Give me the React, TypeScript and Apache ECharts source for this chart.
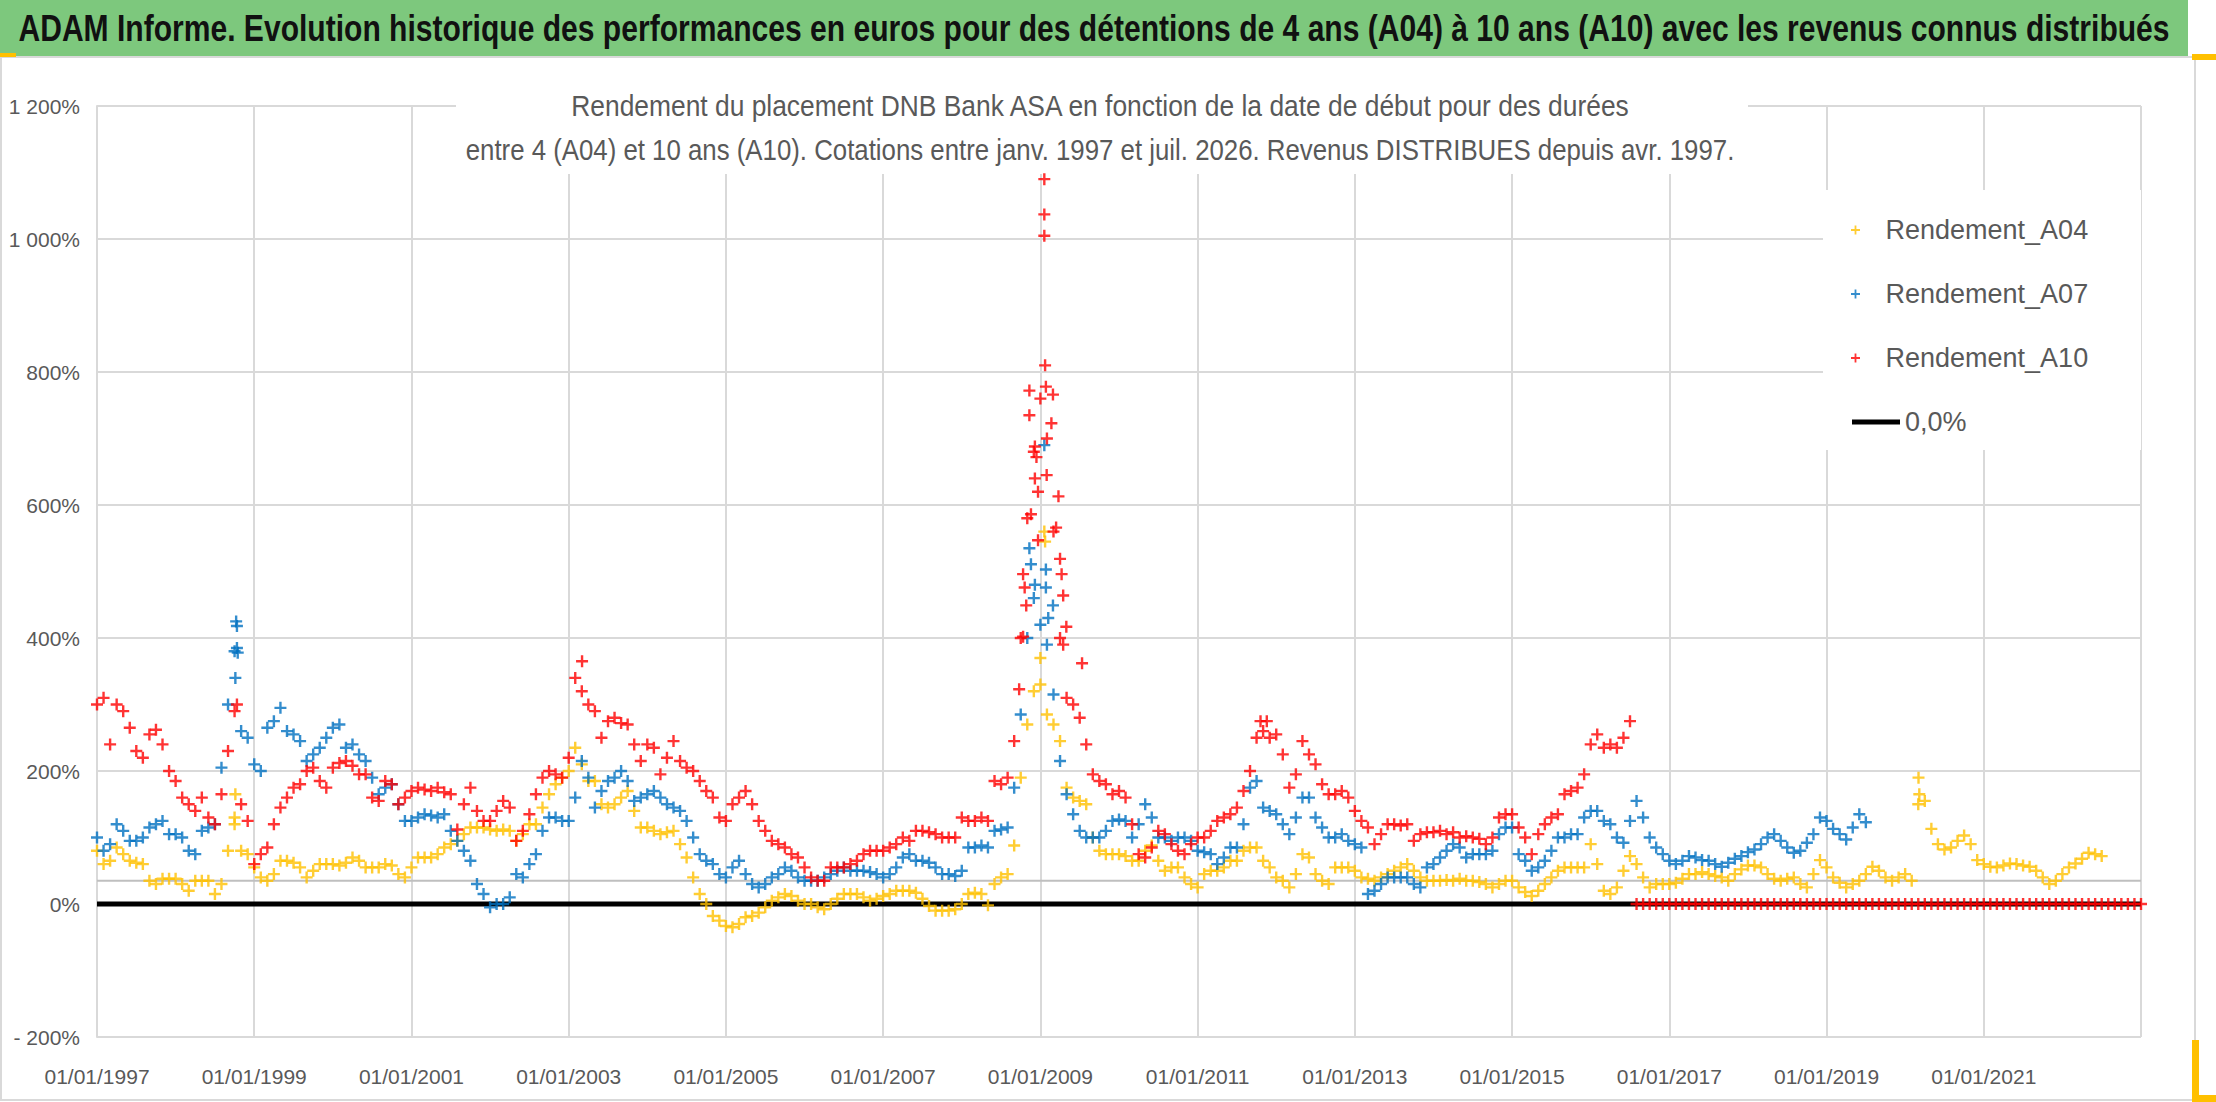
import { useEffect, useRef } from 'react';
import * as echarts from 'echarts';

// monthly readings, first value = January 1997
const START_YEAR = 1997;
const X_MIN = 1997;
const X_MAX = 2023;
const Y_MIN = -200;
const Y_MAX = 1200;
const REF_LEVEL = 35;
const ZERO_LEVEL = 0;

const a04Monthly = [
  80, 60, 65, 85, 75, 65, 62, 60, 35, 30, 38, 38,
  38, 30, 20, 35, 35, 35, 15, 30, 80, 120, 80, 75,
  55, 40, 35, 45, 65, 65, 62, 55, 40, 50, 60, 60,
  60, 58, 62, 70, 65, 55, 55, 55, 60, 58, 45, 40,
  55, 70, 70, 70, 75, 85, 90, 95, 105, 115, 115, 115,
  112, 110, 112, 110, 95, 105, 120, 120, 145, 165, 180, 190,
  200, 235, 210, 185, 185, 150, 145, 150, 160, 170, 140, 115,
  115, 110, 105, 108, 110, 90, 70, 40, 15, 0, -18, -25,
  -33, -35, -30, -20, -18, -13, -5, 5, 10, 15, 12, 5,
  0, 0, -5, -8, 0, 8, 15, 15, 15, 10, 5, 8,
  12, 15, 20, 20, 20, 17, 8, -3, -10, -10, -10, -8,
  0, 15, 17, 15, -2, 30, 40, 45, 88, 190, 270, 320,
  330, 285, 270, 245, 175, 160, 155, 150, 100, 80, 75, 75,
  75, 72, 65, 65, 80, 88, 65, 50, 55, 55, 40, 30,
  25, 45, 50, 50, 55, 65, 65, 80, 85, 85, 65, 55,
  40, 35, 25, 45, 75, 70, 45, 35, 30, 55, 55, 55,
  50, 40, 38, 35, 40, 45, 50, 55, 60, 50, 40, 35,
  35, 35, 36, 35, 38, 35, 35, 33, 30, 25, 30, 35,
  35, 25, 18, 12, 20, 30, 40, 50, 55, 55, 55, 55,
  90, 60, 20, 15, 25, 50, 72, 60, 40, 25, 30, 30,
  30, 32, 38, 45, 45, 48, 45, 42, 40, 35, 45, 52,
  58, 58, 55, 45, 38, 35, 38, 40, 30, 25, 45, 66,
  55, 40, 32, 25, 30, 35, 45, 56, 50, 40, 35, 40,
  45, 35, 150, 155, 113, 90, 82, 85, 95, 103, 90, 66,
  60, 56, 55, 58, 61, 60, 58, 56, 50, 40, 30, 35,
  45, 55, 61, 68, 77, 75, 72,
];

const a07Monthly = [
  100, 80, 90, 120, 110, 95, 95, 100, 115, 120, 125, 105,
  105, 100, 80, 75, 110, 115, 120, 205, 300, 380, 260, 250,
  210, 200, 265, 275, 295, 260, 255, 245, 215, 225, 235, 250,
  265, 270, 235, 240, 225, 215, 190, 165, 175, 180, 150, 125,
  125, 130, 135, 133, 130, 135, 110, 95, 80, 65, 30, 15,
  -5, 0, 0, 10, 45, 40, 60, 75, 110, 130, 130, 125,
  125, 160, 215, 190, 145, 170, 185, 190, 200, 185, 155, 160,
  165, 170, 160, 150, 145, 140, 125, 100, 75, 65, 60, 45,
  40, 55, 65, 45, 30, 25, 30, 40, 45, 55, 50, 40,
  35, 35, 35, 40, 45, 50, 55, 50, 50, 50, 48, 45,
  40, 45, 55, 70, 75, 65, 65, 62, 55, 45, 45, 42,
  50, 85, 85, 88, 85, 110, 112, 115, 175, 285, 400, 460,
  420, 390, 315, 215, 165, 135, 110, 100, 100, 100, 110, 125,
  127, 125, 100, 120, 150, 130, 100, 100, 95, 100, 100, 95,
  80, 78, 75, 60, 70, 85, 85, 120, 175, 185, 145, 140,
  135, 120, 105, 130, 160, 160, 130, 115, 100, 100, 105, 95,
  90, 85, 15, 20, 30, 40, 40, 40, 40, 30, 25, 55,
  60, 70, 80, 90, 85, 70, 75, 75, 75, 80, 105, 115,
  115, 75, 65, 50, 55, 65, 80, 100, 100, 105, 105, 130,
  140, 140, 125, 120, 100, 92, 125, 155, 130, 100, 85, 75,
  65, 60, 65, 72, 70, 66, 65, 60, 56, 62, 68, 72,
  78, 82, 90, 100, 105, 95, 85, 77, 80, 92, 105, 130,
  125, 113, 105, 97, 115, 135, 123,
];

const a10Monthly = [
  300, 310, 240, 300, 290, 265, 230, 220, 255, 262, 240, 200,
  185, 160, 150, 140, 160, 130, 120, 165, 230, 290, 150, 125,
  60, 75, 85, 120, 145, 160, 175, 180, 200, 205, 185, 175,
  205, 212, 215, 208, 195, 195, 160, 155, 185, 180, 150, 160,
  170, 175, 172, 170, 175, 168, 165, 112, 150, 175, 140, 125,
  125, 140, 155, 145, 95, 110, 135, 165, 190, 200, 195, 190,
  220, 340, 320, 300, 290, 250, 275, 280, 272, 270, 240, 215,
  240, 235, 195, 220, 245, 215, 205, 200, 185, 170, 160, 130,
  125, 150, 160, 170, 150, 125, 110, 95, 90, 85, 75, 70,
  55, 40, 35, 35, 55, 55, 55, 60, 65, 75, 80, 80,
  80, 85, 90, 100, 95, 110, 110, 108, 105, 100, 100, 100,
  130, 125, 125, 130, 125, 185, 180, 190, 245, 400, 580, 680,
  760, 700, 560, 400, 310, 300, 280, 240, 195, 185, 180, 165,
  170, 160, 120, 75, 70, 85, 110, 105, 90, 80, 75, 90,
  100, 100, 110, 125, 130, 135, 145, 170, 200, 250, 260, 250,
  255, 225, 175, 195, 245, 225, 210, 180, 165, 165, 170, 160,
  140, 125, 115, 90, 105, 120, 120, 118, 120, 95, 105, 108,
  108, 110, 105, 108, 100, 102, 100, 98, 90, 100, 130, 135,
  135, 115, 100, 75, 105, 120, 130, 135, 165, 170, 175, 195,
  240, 255, 235, 240, 235, 250, 275, 0, 0, 0, 0, 0,
  0, 0, 0, 0, 0, 0, 0, 0, 0, 0, 0, 0,
  0, 0, 0, 0, 0, 0, 0, 0, 0, 0, 0, 0,
  0, 0, 0, 0, 0, 0, 0, 0, 0, 0, 0, 0,
  0, 0, 0, 0, 0, 0, 0, 0, 0, 0, 0, 0,
  0, 0, 0, 0, 0, 0, 0, 0, 0, 0, 0, 0,
  0, 0, 0, 0, 0, 0, 0, 0, 0, 0, 0, 0,
  0,
];

// isolated daily extremes, [decimal year, %]
const a04Spikes = [
  [1998.76, 165], [1998.75, 130], [2009.0, 370], [2009.05, 560], [2009.06, 545],
  [2020.17, 190], [2020.18, 165],
];
const a07Spikes = [
  [1998.76, 340], [1998.77, 425], [1998.78, 418], [1998.78, 385], [1998.79, 378],
  [2008.86, 535], [2008.88, 511], [2008.93, 480], [2009.05, 690], [2009.07, 503],
  [2009.07, 476], [2009.1, 430], [2009.16, 449],
];
const a10Spikes = [
  [1998.78, 300], [2003.17, 365], [2011.8, 275], [2011.88, 275],
  [2008.73, 323], [2008.78, 402], [2008.78, 496], [2008.8, 476], [2008.82, 449],
  [2008.86, 772], [2008.86, 735], [2008.88, 586], [2008.93, 688], [2008.93, 640],
  [2008.95, 672], [2008.97, 620], [2008.97, 547], [2009.05, 1090], [2009.05, 1037],
  [2009.05, 1005], [2009.06, 810], [2009.07, 778], [2009.08, 645], [2009.14, 723],
  [2009.16, 766], [2009.2, 566], [2009.23, 613], [2009.25, 519], [2009.27, 496],
  [2009.29, 464], [2009.29, 390], [2009.33, 417], [2009.53, 362],
];

const PLUS = 'path://M4,0H6V4H10V6H6V10H4V6H0V4H4Z';
const FONT = "'Liberation Sans', Arial, sans-serif";
const GREY_TEXT = '#595959';

const toPoints = (values: number[]) => values.map((v, i) => [START_YEAR + i / 12, v]);

const fmtPct = (v: number) => {
  const abs = Math.abs(v);
  const body = abs >= 1000 ? `${Math.floor(abs / 1000)} ${String(abs % 1000).padStart(3, '0')}` : String(abs);
  return (v < 0 ? '- ' : '') + body + '%';
};

const App = () => {
  const chartRef = useRef<HTMLDivElement>(null);

  useEffect(() => {
    document.body.style.margin = '0';
    if (!chartRef.current) return;
    const myChart = echarts.init(chartRef.current, undefined, { renderer: 'svg' });

    const scatter = (name: string, color: string, data: number[][]) => ({
      name,
      type: 'scatter',
      data,
      symbol: PLUS,
      symbolSize: 12,
      itemStyle: { color },
      z: 3,
    });

    const legendText = { fontSize: 27, lineHeight: 32, color: GREY_TEXT, fontFamily: FONT };

    const option = {
      animation: false,
      backgroundColor: '#fff',
      grid: { left: 97, right: 75, top: 106, bottom: 65 },
      xAxis: {
        type: 'value',
        min: X_MIN,
        max: X_MAX,
        interval: 2,
        axisLine: { show: true, lineStyle: { color: '#d9d9d9', width: 2 } },
        axisTick: { show: false },
        splitLine: { show: true, lineStyle: { color: '#d9d9d9', width: 2 } },
        axisLabel: {
          formatter: (v: number) => `01/01/${v}`,
          showMaxLabel: false,
          color: GREY_TEXT,
          fontSize: 21,
          fontFamily: FONT,
          margin: 29,
        },
      },
      yAxis: {
        type: 'value',
        min: Y_MIN,
        max: Y_MAX,
        interval: 200,
        axisLine: { show: true, lineStyle: { color: '#d9d9d9', width: 2 } },
        axisTick: { show: false },
        splitLine: { show: true, lineStyle: { color: '#d9d9d9', width: 2 } },
        axisLabel: {
          formatter: fmtPct,
          color: GREY_TEXT,
          fontSize: 21,
          fontFamily: FONT,
          margin: 17,
        },
      },
      legend: [
        {
          data: ['Rendement_A04', 'Rendement_A07', 'Rendement_A10'],
          orient: 'vertical',
          left: 1846,
          top: 209,
          icon: PLUS,
          itemWidth: 50,
          itemHeight: 9,
          itemGap: 32,
          textStyle: legendText,
        },
        {
          data: ['0,0%'],
          left: 1847,
          top: 401,
          icon: 'rect',
          itemWidth: 48,
          itemHeight: 5,
          textStyle: legendText,
        },
      ],
      graphic: [
        { type: 'rect', z: 1, shape: { x: 1, y: 57, width: 2194, height: 1043 }, style: { fill: 'none', stroke: '#d9d9d9', lineWidth: 2 } },
        { type: 'rect', z: 1, shape: { x: 0, y: 0, width: 2188, height: 56 }, style: { fill: '#7DC87D' } },
        {
          type: 'text', z: 2, x: 1094, y: 29, scaleX: 0.835,
          style: {
            text: 'ADAM Informe. Evolution historique des performances en euros pour des détentions de 4 ans (A04) à 10 ans (A10) avec les revenus connus distribués',
            font: `bold 36px ${FONT}`, fill: '#111', textAlign: 'center', textVerticalAlign: 'middle',
          },
        },
        { type: 'rect', z: 1, shape: { x: 456, y: 100, width: 1292, height: 74 }, style: { fill: '#fff' } },
        {
          type: 'text', z: 2, x: 1100, y: 106, scaleX: 0.91,
          style: {
            text: 'Rendement du placement DNB Bank ASA en fonction de la date de début pour des durées',
            font: `29px ${FONT}`, fill: GREY_TEXT, textAlign: 'center', textVerticalAlign: 'middle',
          },
        },
        {
          type: 'text', z: 2, x: 1100, y: 150, scaleX: 0.89,
          style: {
            text: 'entre 4 (A04) et 10 ans (A10). Cotations entre janv. 1997 et juil. 2026. Revenus DISTRIBUES depuis avr. 1997.',
            font: `29px ${FONT}`, fill: GREY_TEXT, textAlign: 'center', textVerticalAlign: 'middle',
          },
        },
        { type: 'rect', z: 1, shape: { x: 1823, y: 190, width: 318, height: 260 }, style: { fill: '#fff' } },
        { type: 'rect', z: 2, shape: { x: 0, y: 53, width: 16, height: 4 }, style: { fill: '#FFC000' } },
        { type: 'rect', z: 2, shape: { x: 2192, y: 54, width: 24, height: 6 }, style: { fill: '#FFC000' } },
        { type: 'rect', z: 2, shape: { x: 2192, y: 1040, width: 7, height: 62 }, style: { fill: '#FFC000' } },
        { type: 'rect', z: 2, shape: { x: 2192, y: 1095, width: 24, height: 7 }, style: { fill: '#FFC000' } },
      ],
      series: [
        {
          name: 'seuil',
          type: 'line',
          data: [[X_MIN, REF_LEVEL], [X_MAX, REF_LEVEL]],
          symbol: 'none',
          silent: true,
          lineStyle: { color: '#bfbfbf', width: 2 },
          z: 1,
        },
        {
          name: '0,0%',
          type: 'line',
          data: [[X_MIN, ZERO_LEVEL], [X_MAX, ZERO_LEVEL]],
          symbol: 'none',
          itemStyle: { color: '#000' },
          lineStyle: { color: '#000', width: 5 },
          z: 2,
        },
        scatter('Rendement_A04', '#FFC000', [...toPoints(a04Monthly), ...a04Spikes]),
        scatter('Rendement_A07', '#0070C0', [...toPoints(a07Monthly), ...a07Spikes]),
        scatter('Rendement_A10', '#FF0000', [...toPoints(a10Monthly), ...a10Spikes]),
      ],
    };

    myChart.setOption(option);

    const handleResize = () => myChart.resize();
    window.addEventListener('resize', handleResize);

    return () => {
      window.removeEventListener('resize', handleResize);
      myChart.dispose();
    };
  }, []);

  return <div ref={chartRef} style={{ width: 2216, height: 1102 }} />;
};

export default App;
